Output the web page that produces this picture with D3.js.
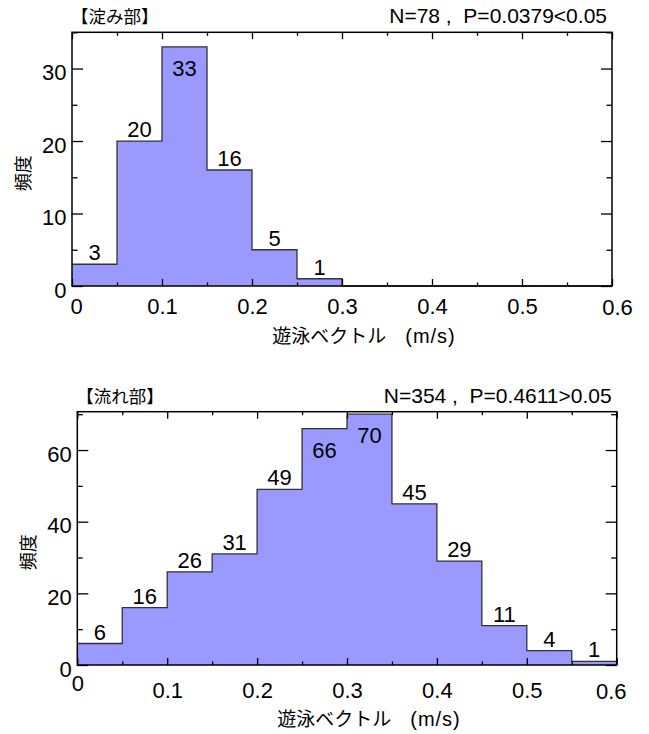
<!DOCTYPE html>
<html>
<head>
<meta charset="utf-8">
<script src="https://d3js.org/d3.v7.min.js"></script>
<style>
body { margin:0; background:#fff; }
svg text { fill:#000; font-family:"Liberation Sans", Arial, sans-serif; }
svg .jp { font-family:"Noto Sans CJK JP", sans-serif; }
</style>
</head>
<body>
<svg id="viz" width="649" height="734"></svg>
<script>
// bin edges (m/s) and counts per bin
var binEdges = [0,0.05,0.1,0.15,0.2,0.25,0.3,0.35,0.4,0.45,0.5,0.55,0.6];
var stagnantCounts = [3,20,33,16,5,1,0,0,0,0,0,0];
var flowingCounts = [6,16,26,31,49,66,70,45,29,11,4,1];

var xMajorTicks = [0,0.1,0.2,0.3,0.4,0.5,0.6];
var xMinorTicks = [0.05,0.15,0.25,0.35,0.45,0.55];
var stagnantYMajor = [0,10,20,30];
var stagnantYMinor = [5,15,25,35];
var flowingYMajor = [0,20,40,60];
var flowingYMinor = [10,30,50,70];

var titles = ["【淀み部】","【流れ部】"];
var stats = ["N=78 ,  P=0.0379<0.05","N=354 ,  P=0.4611>0.05"];
var yLabel = "頻度";
var xLabelJp = "遊泳ベクトル　";
var xLabelUnit = "(m/s)";

var svg = d3.select("#viz");

function drawHist(c) {
	var x = d3.scaleLinear().domain([0,0.6]).range([c.left,c.right]);
	var y = d3.scaleLinear().domain([0,c.yMax]).range([c.bottom,c.top]);
	var g = svg.append("g");

	var pts = binEdges.map(function (e,i) { return [e, c.counts[Math.min(i, c.counts.length-1)]]; });
	g.append("path").datum(pts)
		.attr("d", d3.area().curve(d3.curveStepAfter).x(function (d) { return x(d[0]); }).y0(y(0)).y1(function (d) { return y(d[1]); }))
		.attr("fill","#9999ff");
	g.append("path").datum(pts)
		.attr("d", d3.line().curve(d3.curveStepAfter).x(function (d) { return x(d[0]); }).y(function (d) { return y(d[1]); }))
		.attr("fill","none").attr("stroke","#333").attr("stroke-width",1.3);

	// count labels, inside the bar when it would hit the frame
	var vals = c.counts.map(function (v,i) { return {v:v, mid:(binEdges[i]+binEdges[i+1])/2}; }).filter(function (d) { return d.v>0; });
	g.selectAll(".val").data(vals).enter().append("text").attr("class","val")
		.attr("x", function (d) { return x(d.mid); })
		.attr("y", function (d) { return (y(d.v)-22 < c.top) ? y(d.v)+29 : y(d.v)-4; })
		.attr("text-anchor","middle").style("font-size","22px")
		.text(function (d) { return d.v; });

	function addAxis(gen, tr) {
		var a = g.append("g").attr("transform",tr).call(gen);
		a.attr("font-size",null).attr("font-family",null);
		a.select(".domain").remove();
		a.selectAll(".tick line").attr("stroke","#000").attr("stroke-width",1.3);
		return a;
	}
	var yl = addAxis(d3.axisLeft(y).tickValues(c.yMajor).tickSize(-11).tickPadding(5.5).tickFormat(d3.format("d")), "translate("+c.left+",0)");
	yl.selectAll("text").attr("dy","0.5em").style("font-size","22px");
	addAxis(d3.axisLeft(y).tickValues(c.yMinor).tickSize(-5.5).tickFormat(""), "translate("+c.left+",0)");
	addAxis(d3.axisRight(y).tickValues(c.yMajor).tickSize(-11).tickFormat(""), "translate("+c.right+",0)");
	addAxis(d3.axisRight(y).tickValues(c.yMinor).tickSize(-5.5).tickFormat(""), "translate("+c.right+",0)");

	var xb = addAxis(d3.axisBottom(x).tickValues(xMajorTicks).tickSize(-7).tickPadding(c.xPad).tickFormat(function (d) { return String(d); }), "translate(0,"+c.bottom+")");
	xb.selectAll("text").style("font-size","22px");
	xb.selectAll(".tick").filter(function (d) { return d===0; }).select("text").attr("dx",c.firstDx).attr("y",c.firstPad);
	xb.selectAll(".tick").filter(function (d) { return d===0.6; }).select("text").attr("dx",c.lastDx).attr("y",c.xPad+1);
	addAxis(d3.axisBottom(x).tickValues(xMinorTicks).tickSize(-3.5).tickFormat(""), "translate(0,"+c.bottom+")");
	addAxis(d3.axisTop(x).tickValues(xMajorTicks).tickSize(-7).tickFormat(""), "translate(0,"+c.top+")");
	addAxis(d3.axisTop(x).tickValues(xMinorTicks).tickSize(-3.5).tickFormat(""), "translate(0,"+c.top+")");

	g.append("rect").attr("x",c.left).attr("y",c.top).attr("width",c.right-c.left).attr("height",c.bottom-c.top)
		.attr("fill","none").attr("stroke","#000").attr("stroke-width",1.5);

	g.append("text").attr("class","jp").attr("x",c.left-1).attr("y",c.top-9).style("font-size","17.5px").text(c.title);
	g.append("text").attr("x",c.right-5).attr("y",c.top-9).attr("text-anchor","end")
		.style("font-size","21px").style("white-space","pre").text(c.stat);

	g.append("text").attr("class","jp")
		.attr("transform","translate("+(c.left-50)+","+((c.top+c.bottom)/2+14)+")rotate(-90)")
		.attr("text-anchor","middle").attr("dominant-baseline","central")
		.style("font-size","18px").text(yLabel);

	var xl = g.append("text").attr("x",(c.left+c.right)/2+22).attr("y",c.bottom+c.xLabelGap).attr("text-anchor","middle").style("white-space","pre");
	xl.append("tspan").attr("class","jp").style("font-size","19px").text(xLabelJp);
	xl.append("tspan").style("font-size","20px").style("letter-spacing","1px").text(xLabelUnit);
}

drawHist({counts:stagnantCounts, yMax:35, yMajor:stagnantYMajor, yMinor:stagnantYMinor,
	title:titles[0], stat:stats[0], left:72, right:612, top:32.3, bottom:286,
	xPad:12, firstPad:12, firstDx:4, lastDx:5, xLabelGap:57});
drawHist({counts:flowingCounts, yMax:70.7, yMajor:flowingYMajor, yMinor:flowingYMinor,
	title:titles[1], stat:stats[1], left:77.3, right:616.7, top:411.7, bottom:665,
	xPad:17, firstPad:10, firstDx:0, lastDx:-6, xLabelGap:61});
</script>
</body>
</html>
